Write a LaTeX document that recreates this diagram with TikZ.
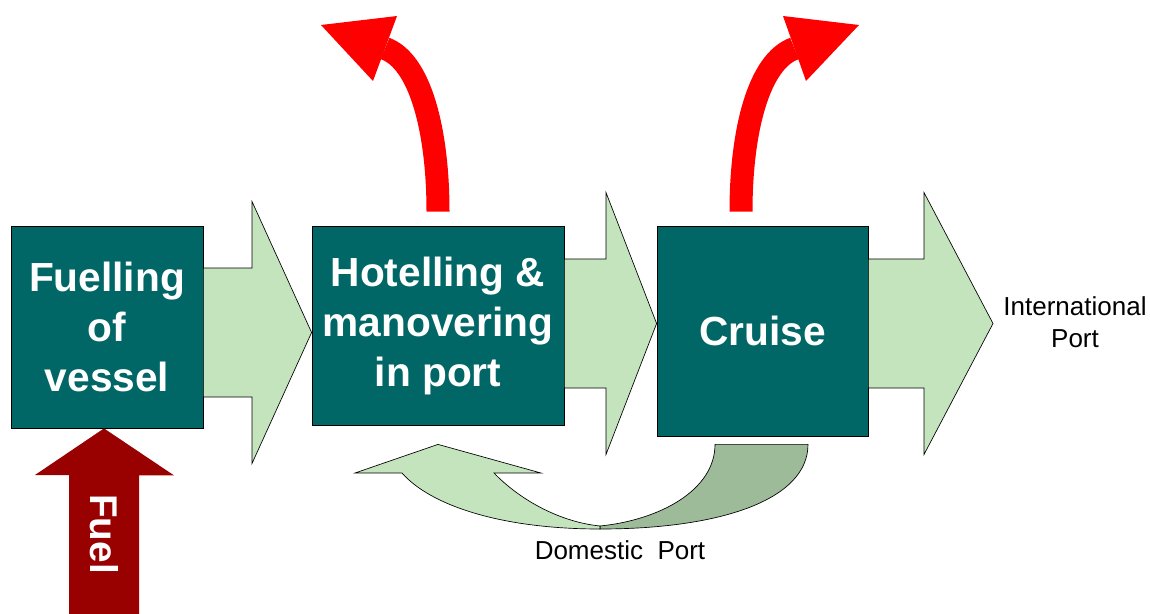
\documentclass[tikz,border=0pt]{standalone}
\usepackage{fontspec}
\setmainfont{Liberation Sans}
\usepackage{xcolor}
\usetikzlibrary{calc}

\definecolor{stagefill}{HTML}{006666}
\definecolor{flowgreen}{HTML}{C4E4BE}
\definecolor{backgreen}{HTML}{9DBA99}
\definecolor{fueldark}{HTML}{990000}

\tikzset{
  stage/.style={draw=black, line width=0.6pt, fill=stagefill, text=white, align=center,
    inner sep=0pt, font=\bfseries\fontsize{30.5}{37.5}\selectfont},
  flow/.style={draw=black, line width=0.5pt, fill=flowgreen},
  port/.style={align=center, inner sep=0pt, font=\fontsize{19.5}{24}\selectfont},
  loss/.style={draw=red, line width=17.25pt},
}

% block arrow: from node, tip, mid y, head x, body half, head half
\newcommand{\flowarrow}[6]{%
  \draw[flow] (#1.east |- 0,#3-#5) -- (#4,#3-#5) -- (#4,#3-#6) -- (#2 |- 0,#3)
    -- (#4,#3+#6) -- (#4,#3+#5) -- (#1.east |- 0,#3+#5) -- cycle;}

\begin{document}
\begin{tikzpicture}[x=0.75pt, y=-0.75pt]
  \useasboundingbox (0,0) rectangle (1150,614);

  % Stages
  \node[stage, minimum width=144pt, minimum height=151.5pt] (fuelling) at (107,327) {Fuelling\\of\\vessel};
  \node[stage, minimum width=189pt, minimum height=149.25pt] (hotel) at (438,325.5) {Hotelling \&\\manovering\\in port};
  \node[stage, minimum width=158.25pt, minimum height=157.5pt] (cruise) at (762.5,331) {Cruise};

  % Ports
  \node[port] (intl) at (1075,322) {International\\Port};
  \node[port] (dom) at (620,550) {Domestic\ \ Port};
  \coordinate (exit) at (993,323.5);

  % Flow between stages
  \flowarrow{fuelling}{hotel.west}{332.5}{252}{64.5}{131}
  \flowarrow{hotel}{cruise.west}{323.5}{606}{64.5}{131}
  \flowarrow{cruise}{exit}{323.5}{924}{64.5}{131}

  % Back to domestic port
  \path (hotel.south) ++(0,19) coordinate (backtip);
  \path (cruise.south) ++(-47.5,8) coordinate (backtail);
  \filldraw[backgreen, draw=black, line width=0.5pt] (backtail) -- ++(93,0)
    .. controls (808,500) and (720,529) .. (600,529) -- (600,526)
    .. controls (660,520) and (715,490) .. (backtail) -- cycle;
  \filldraw[flowgreen, draw=black, line width=0.5pt] (backtip) -- (541,473) -- (494,473)
    .. controls (520,500) and (560,522) .. (600,526) -- (600,529)
    .. controls (500,529) and (430,505) .. (402,473) -- (355,473) -- cycle;

  % Fuel in
  \coordinate (fueltail) at (104,614);
  \fill[fueldark] (fueltail) ++(-35,0) -- ++(0,-139) -- ++(-34,0) -- (fuelling.south -| fueltail)
    -- ++(70,47) -- ++(-35,0) -- ++(0,139) -- cycle;
  \node[rotate=-90, text=white, font=\bfseries\fontsize{29}{36.5}\selectfont] (fuel) at (104,534) {Fuel};

  % Losses
  \path (hotel.north) ++(0,-14) coordinate (loss1);
  \path (cruise.north) ++(-21.5,-14) coordinate (loss2);
  \draw[loss] (loss1) .. controls (438,130) and (420,61) .. (385,48.5);
  \fill[red] (321,25) -- (397,16) -- (373,81) -- cycle;
  \draw[loss] (loss2) .. controls (741,130) and (759,61) .. (794.5,48.5);
  \fill[red] (859,25) -- (783,16) -- (806,81) -- cycle;
\end{tikzpicture}
\end{document}
